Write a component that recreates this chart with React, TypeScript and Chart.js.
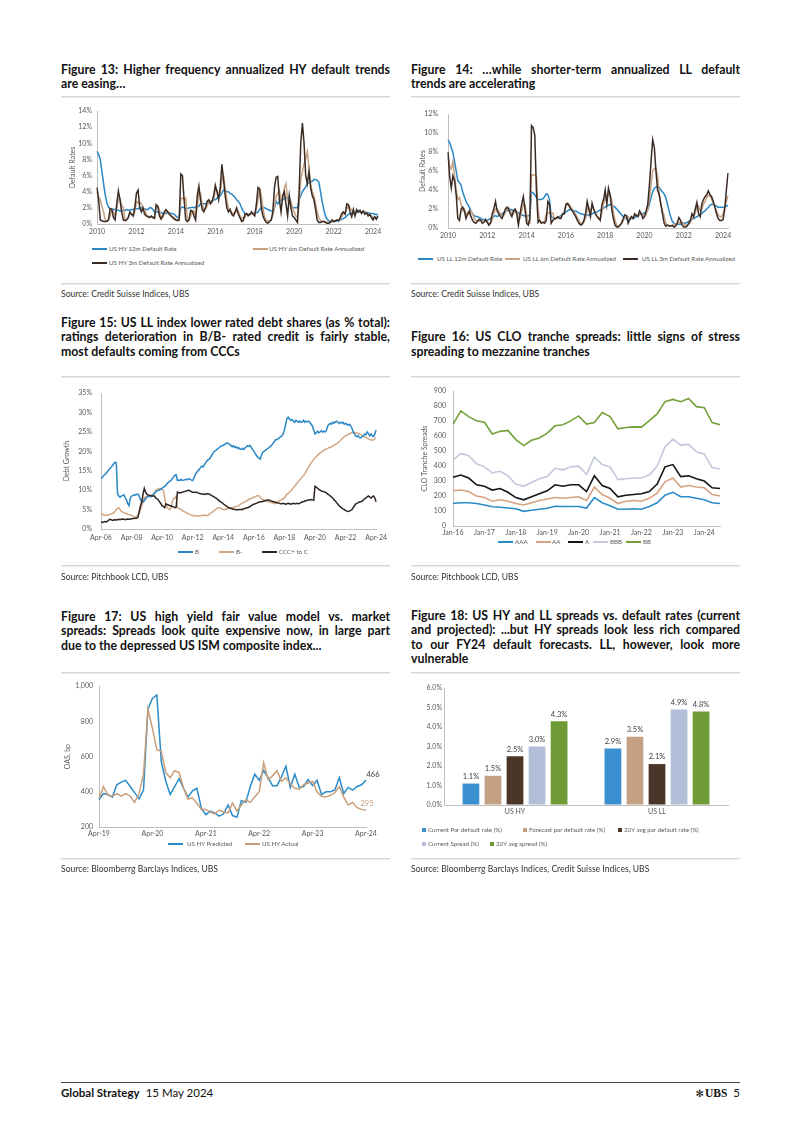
import React, { useEffect, useRef } from 'react';
import { Chart, registerables } from 'chart.js';

Chart.register(...registerables);

const FONT = 'Lato, "Open Sans", "Noto Sans", sans-serif';
const AXIS_TEXT = '#595959';
const AXIS_LINE = '#bfbfbf';
Chart.defaults.font.family = FONT;

// ---------------- Figure 13 (monthly, Jan-2010 .. Apr-2024) ----------------
const yearTicks = ['2010', '2012', '2014', '2016', '2018', '2020', '2022', '2024'];
const hySeriesNames = ['US HY 12m Default Rate', 'US HY 6m Default Rate Annualized', 'US HY 3m Default Rate Annualized'];
const hy12m = [
  9.0, 8.6, 8.0, 6.5, 5.0, 3.6, 2.6, 2.1, 1.9, 1.9, 1.8, 1.8,
  1.7, 1.7, 1.6, 1.6, 1.7, 1.7, 1.8, 1.7, 1.7, 1.8, 1.8, 1.9,
  1.9, 1.9, 2.0, 2.0, 1.9, 1.9, 1.8, 1.8, 2.0, 2.0, 1.8, 1.5,
  1.5, 1.5, 1.4, 1.4, 1.3, 1.3, 1.3, 1.4, 1.4, 1.3, 1.3, 1.2,
  1.0, 0.8, 0.8, 2.0, 2.1, 2.0, 1.9, 1.9, 2.0, 2.0, 2.1, 2.0,
  2.1, 2.1, 2.2, 2.5, 2.5, 2.5, 2.5, 2.6, 2.7, 2.8, 2.9, 3.0,
  3.0, 3.2, 3.3, 3.5, 3.8, 4.2, 4.2, 4.0, 4.0, 3.8, 3.7, 3.5,
  3.3, 3.0, 2.8, 2.5, 2.0, 1.6, 1.3, 1.2, 1.2, 1.2, 1.3, 1.3,
  1.4, 1.4, 1.5, 1.8, 2.0, 2.0, 2.0, 1.9, 1.8, 1.7, 1.6, 1.6,
  2.0, 2.8, 2.5, 2.8, 3.0, 3.0, 3.1, 3.2, 3.3, 3.3, 2.2, 2.0,
  2.0, 2.0, 2.0, 3.0, 3.5, 4.0, 4.3, 4.6, 5.0, 5.1, 5.2, 5.3,
  5.5, 5.5, 5.4, 5.2, 4.0, 2.8, 1.8, 1.0, 0.6, 0.4, 0.3, 0.3,
  0.3, 0.3, 0.4, 0.4, 0.5, 0.6, 0.7, 0.8, 1.0, 1.2, 1.3, 1.3,
  1.3, 1.3, 1.4, 1.5, 1.5, 1.5, 1.5, 1.5, 1.4, 1.4, 1.3, 1.3,
  1.3, 1.2, 1.2, 1.1,
];
const hy6m = [
  4.0, 3.3, 3.0, 2.2, 1.5, 0.5, 0.4, 0.5, 1.0, 1.8, 1.5, 1.0,
  2.0, 3.0, 3.2, 2.3, 2.0, 0.6, 0.5, 0.7, 1.2, 1.3, 1.0, 1.5,
  2.8, 2.6, 2.7, 2.5, 2.0, 1.8, 1.2, 1.0, 0.8, 0.9, 0.9, 0.8,
  2.0, 2.2, 1.8, 0.8, 0.8, 1.3, 1.6, 1.6, 1.3, 1.1, 0.9, 0.8,
  0.6, 0.5, 0.5, 3.2, 3.2, 3.0, 3.2, 0.6, 0.5, 1.0, 1.6, 1.6,
  1.0, 2.0, 4.0, 3.8, 2.5, 1.8, 1.8, 2.2, 2.8, 2.8, 2.7, 3.0,
  4.3, 4.2, 3.5, 3.8, 5.5, 6.0, 4.5, 3.0, 2.0, 1.6, 1.5, 1.2,
  1.3, 1.6, 1.6, 1.0, 0.6, 0.8, 0.8, 1.2, 1.2, 1.1, 1.3, 1.4,
  1.2, 1.8, 3.0, 4.3, 3.5, 2.0, 0.8, 0.4, 0.4, 0.3, 0.5, 1.0,
  2.0, 3.5, 3.8, 4.2, 3.0, 3.0, 4.5, 5.0, 3.0, 2.5, 2.8, 2.0,
  1.5, 1.0, 0.8, 2.5, 5.5, 6.5, 7.5, 8.0, 9.0, 7.0, 5.0, 4.0,
  3.5, 2.5, 1.5, 0.8, 0.4, 0.3, 0.3, 0.3, 0.2, 0.2, 0.2, 0.3,
  0.4, 0.4, 0.5, 0.5, 0.6, 0.9, 1.3, 1.4, 1.8, 2.3, 2.0, 1.7,
  1.4, 1.4, 1.5, 1.6, 1.6, 1.5, 1.5, 1.4, 1.3, 1.3, 1.1, 1.0,
  0.8, 0.8, 0.8, 0.9,
];
const hy3m = [
  4.5, 3.0, 0.5, 0.4, 0.3, 0.3, 0.3, 0.5, 1.9, 1.8, 0.8, 0.5,
  2.5, 4.1, 3.0, 1.5, 0.5, 0.4, 0.5, 0.8, 1.5, 1.2, 1.0, 2.0,
  3.8, 4.2, 2.0, 1.5, 2.0, 1.2, 1.0, 0.9, 0.8, 1.0, 0.8, 0.7,
  2.4, 2.2, 1.0, 0.6, 1.0, 1.5, 1.8, 1.5, 1.2, 1.0, 0.8, 0.6,
  0.5, 0.4, 0.5, 6.2, 6.0, 3.0, 0.5, 0.3, 0.5, 1.7, 1.6, 1.0,
  0.5, 3.5, 4.7, 3.0, 1.8, 1.5, 2.0, 2.8, 3.0, 2.5, 2.8, 3.5,
  4.8, 4.0, 3.0, 4.5, 7.4, 5.5, 3.5, 2.0, 1.5, 1.8, 1.2, 1.0,
  1.5, 2.0, 1.2, 0.8, 0.3, 0.4, 1.2, 1.3, 1.0, 1.2, 1.5, 1.2,
  1.0, 2.5, 4.5, 4.3, 2.0, 1.0, 0.5, 0.2, 0.1, 0.3, 0.5, 1.5,
  4.5, 5.8, 5.9, 3.0, 1.5, 3.5, 4.0, 2.5, 1.0, 3.5, 2.0, 1.0,
  0.8, 0.5, 0.2, 4.0, 10.0, 12.5, 10.0, 6.0, 5.0, 6.5, 4.5, 3.5,
  3.0, 1.8, 0.5, 0.2, 0.2, 0.3, 0.3, 0.2, 0.1, 0.1, 0.2, 0.5,
  0.3, 0.4, 0.5, 0.4, 0.8, 1.3, 1.5, 1.2, 2.5, 2.4, 1.5, 0.9,
  1.8, 1.0, 1.8, 1.5, 1.7, 1.3, 1.6, 1.2, 1.4, 1.0, 1.2, 0.8,
  0.5, 0.9, 0.6, 1.0,
];

// ---------------- Figure 14 (monthly, Jan-2010 .. Apr-2024) ----------------
const llSeriesNames = ['US LL 12m Default Rate', 'US LL 6m Default Rate Annualized', 'US LL 3m Default Rate Annualized'];
const ll12m = [
  9.3, 9.0, 8.5, 8.0, 7.0, 6.0, 5.0, 4.8, 4.5, 3.8, 3.3, 2.8,
  2.5, 2.2, 1.8, 1.5, 1.3, 1.2, 1.2, 1.1, 1.0, 0.9, 0.9, 0.8,
  0.8, 0.9, 1.0, 1.1, 1.2, 1.3, 1.2, 1.3, 1.4, 1.5, 1.6, 1.7,
  1.8, 1.9, 2.0, 1.9, 1.8, 1.7, 1.7, 1.6, 1.5, 1.4, 1.3, 1.3,
  1.2, 1.3, 1.3, 3.8, 3.7, 3.5, 3.2, 3.0, 3.0, 3.0, 3.1, 3.3,
  3.6, 3.5, 3.0, 1.2, 1.1, 1.0, 1.0, 1.1, 1.2, 1.3, 1.4, 1.5,
  1.7, 1.8, 1.9, 2.0, 1.9, 1.8, 1.8, 1.7, 1.6, 1.5, 1.5, 1.4,
  1.4, 1.4, 1.3, 1.4, 1.5, 1.6, 1.6, 1.7, 1.8, 1.9, 2.0, 2.1,
  2.2, 2.3, 2.4, 2.5, 2.4, 2.3, 2.2, 2.0, 1.8, 1.6, 1.4, 1.2,
  1.1, 1.0, 0.9, 0.9, 1.0, 1.0, 1.1, 1.2, 1.3, 1.4, 1.5, 1.5,
  1.6, 1.7, 1.9, 2.5, 3.2, 3.8, 4.2, 4.3, 4.4, 4.3, 4.0, 3.8,
  3.6, 3.2, 2.5, 1.8, 1.2, 0.7, 0.5, 0.4, 0.4, 0.4, 0.4, 0.5,
  0.5, 0.5, 0.6, 0.7, 0.8, 0.9, 1.0, 1.1, 1.2, 1.3, 1.4, 1.5,
  1.7, 1.8, 2.0, 2.2, 2.4, 2.5, 2.5, 2.4, 2.3, 2.2, 2.2, 2.2,
  2.2, 2.2, 2.3, 2.4,
];
const ll6m = [
  7.5, 6.5, 6.2, 7.0, 5.5, 4.0, 3.0, 3.2, 2.5, 1.8, 2.0, 1.5,
  1.5, 1.4, 1.8, 1.5, 1.0, 0.8, 0.7, 0.7, 0.8, 0.8, 0.7, 0.7,
  0.6, 0.5, 0.5, 0.9, 1.5, 2.0, 2.0, 1.8, 1.5, 1.3, 1.3, 1.6,
  2.0, 2.2, 1.8, 1.5, 1.5, 1.8, 1.8, 1.0, 1.0, 1.8, 2.5, 2.5,
  1.5, 0.5, 0.5, 5.6, 5.6, 5.6, 5.4, 2.0, 0.7, 0.6, 0.6, 0.7,
  1.5, 1.6, 1.6, 1.6, 1.6, 0.9, 1.0, 1.1, 1.1, 1.2, 1.4, 1.8,
  2.3, 2.5, 2.5, 2.2, 1.9, 1.7, 1.4, 1.1, 0.8, 0.5, 0.5, 0.6,
  1.0, 2.0, 2.2, 1.8, 2.2, 2.0, 1.6, 1.3, 1.1, 1.0, 1.6, 2.5,
  3.2, 3.2, 3.5, 3.5, 3.0, 1.6, 0.8, 0.3, 0.2, 0.3, 0.5, 0.7,
  1.1, 1.2, 1.2, 1.0, 1.0, 1.1, 1.3, 1.4, 1.4, 1.4, 1.5, 1.4,
  1.2, 1.4, 2.0, 3.0, 4.5, 6.0, 6.3, 6.3, 5.5, 3.5, 2.5, 1.8,
  1.3, 0.5, 0.3, 0.3, 0.2, 0.2, 0.3, 0.4, 0.5, 0.6, 0.5, 0.6,
  0.4, 0.3, 0.3, 0.4, 0.6, 1.0, 1.2, 1.6, 2.2, 2.3, 1.8, 2.0,
  2.5, 2.8, 3.2, 3.4, 3.4, 3.0, 2.6, 2.2, 1.8, 1.4, 1.2, 1.2,
  1.5, 2.2, 2.8, 3.4,
];
const ll3m = [
  8.0, 5.5, 4.2, 5.5, 5.0, 3.5, 1.0, 0.8, 2.0, 2.2, 1.8, 1.0,
  1.5, 1.8, 1.2, 0.8, 0.6, 0.5, 0.7, 0.9, 0.8, 0.5, 0.6, 0.9,
  0.6, 0.3, 0.5, 1.5, 2.0, 2.8, 1.8, 1.5, 1.2, 1.0, 1.5, 2.0,
  2.2, 2.0, 1.5, 1.2, 1.8, 2.0, 1.5, 0.3, 1.5, 2.5, 3.3, 2.0,
  0.5, 0.3, 1.0, 10.8, 10.6, 9.8, 4.0, 0.6, 0.8, 0.5, 0.6, 0.5,
  0.8, 2.8, 2.5, 0.5, 0.8, 1.0, 1.0, 1.2, 1.0, 1.0, 1.5, 1.5,
  2.5, 2.6, 2.3, 2.0, 1.8, 1.5, 1.2, 0.8, 0.5, 0.3, 0.4, 0.8,
  1.5, 2.8, 2.0, 1.2, 2.6, 2.0, 1.5, 1.2, 1.0, 0.8, 2.5, 3.0,
  4.0, 2.5, 4.2, 3.5, 2.0, 1.0, 0.3, 0.1, 0.1, 0.3, 0.5, 1.0,
  1.4, 1.3, 0.5, 0.9, 1.2, 1.0, 1.5, 1.3, 1.2, 1.8, 1.5, 1.0,
  1.2, 1.8, 2.5, 4.5, 7.0, 9.3, 8.5, 6.0, 4.0, 3.5, 2.5, 1.5,
  0.5, 0.2, 0.3, 0.2, 0.2, 0.3, 0.1, 0.2, 0.5, 1.1, 0.8, 0.3,
  0.1, 0.1, 0.2, 0.5, 0.8, 1.5, 1.2, 2.0, 2.7, 1.5, 1.2, 2.5,
  3.0, 3.3, 3.5, 3.9, 3.5, 3.3, 2.8, 2.2, 1.5, 1.0, 0.8, 0.8,
  0.9, 2.0, 4.0, 5.8,
];

// ---------------- Figure 15 (monthly, Apr-2006 .. Apr-2024) ----------------
const ratingTicks = ['Apr-06', 'Apr-08', 'Apr-10', 'Apr-12', 'Apr-14', 'Apr-16', 'Apr-18', 'Apr-20', 'Apr-22', 'Apr-24'];
const ratingNames = ['B', 'B-', 'CCC+ to C'];
const shareB = [
  13.0, 13.2, 13.8, 14.0, 14.3, 14.8, 15.2, 15.5, 16.0, 16.3, 16.8, 17.2,
  17.0, 9.0, 8.5, 8.2, 8.5, 8.6, 8.8, 8.0, 7.5, 6.5, 6.0, 8.0,
  8.5, 8.6, 8.8, 8.7, 8.9, 9.0, 8.5, 7.5, 7.2, 7.0, 7.3, 7.8,
  8.2, 8.5, 8.5, 8.3, 8.6, 8.8, 9.2, 9.5, 9.8, 10.0, 10.0, 10.3,
  10.5, 10.8, 11.0, 11.3, 11.8, 12.0, 12.3, 12.5, 13.0, 13.5, 13.8, 14.0,
  12.5, 12.6, 12.5, 12.8, 12.5, 12.6, 12.7, 12.8, 12.7, 13.0, 12.8, 12.6,
  12.5, 13.2, 14.0, 14.5, 15.0, 15.3, 15.8, 16.2, 16.0, 16.5, 17.0, 17.5,
  17.8, 18.0, 18.5, 19.0, 19.5, 20.0, 20.2, 20.5, 20.8, 21.0, 21.3, 21.5,
  21.5, 21.8, 22.0, 22.2, 22.0, 21.8, 21.5, 21.2, 21.5, 21.0, 21.2, 20.8,
  21.0, 20.6, 20.5, 20.8, 20.5, 20.9, 21.2, 21.5, 21.3, 21.5, 21.0, 20.5,
  20.0, 19.5, 19.0, 18.5, 18.3, 18.0, 19.0, 19.8, 20.0, 20.3, 20.5, 20.8,
  21.0, 21.3, 21.6, 22.0, 22.5, 23.0, 23.0, 23.3, 23.5, 23.8, 24.0, 24.5,
  25.5, 27.0, 28.5, 28.8, 28.3, 28.0, 28.2, 27.8, 27.5, 28.0, 27.8, 27.5,
  27.8, 27.5, 27.6, 28.0, 27.5, 27.8, 27.6, 27.8, 27.5, 27.0, 26.5, 25.5,
  24.5, 24.8, 25.2, 24.8, 25.0, 25.3, 25.0, 25.2, 25.0, 25.5, 26.5, 27.0,
  27.2, 27.0, 27.5, 27.3, 27.6, 27.8, 27.5, 27.2, 27.5, 27.3, 27.5, 27.0,
  27.2, 27.0, 26.8, 27.0, 26.5, 26.0, 25.0, 24.5, 24.0, 23.8, 24.0, 23.5,
  23.5, 23.8, 24.0, 24.5, 24.3, 25.0, 24.6, 24.0, 24.5, 24.0, 23.8, 24.5,
  25.5,
];
const shareBminus = [
  4.0, 3.8, 3.6, 3.5, 3.6, 3.5, 3.6, 3.8, 3.9, 4.0, 4.2, 4.5,
  5.0, 5.3, 5.5, 5.0, 4.5, 4.4, 4.2, 4.0, 4.0, 3.8, 3.7, 3.6,
  3.5, 3.3, 3.1, 3.0, 3.2, 3.5, 4.0, 5.0, 6.0, 7.0, 8.0, 8.3,
  8.5, 8.3, 8.5, 8.6, 8.8, 9.0, 9.5, 10.0, 10.2, 10.3, 10.5, 10.4,
  10.2, 10.0, 8.0, 6.0, 5.5, 5.2, 5.0, 5.5, 7.0, 7.8, 8.0, 8.5,
  5.5, 5.3, 5.2, 5.0, 4.8, 4.5, 4.4, 4.2, 4.0, 3.9, 3.7, 3.6,
  3.5, 3.4, 3.5, 3.4, 3.3, 3.4, 3.5, 3.4, 3.5, 3.6, 3.5, 3.5,
  3.5, 3.8, 4.0, 4.3, 4.5, 4.8, 5.0, 5.3, 5.5, 5.5, 5.3, 5.2,
  5.0, 5.1, 5.0, 5.2, 5.3, 5.4, 5.5, 5.5, 5.6, 5.7, 5.8, 5.9,
  6.0, 6.2, 6.5, 6.7, 6.8, 7.0, 7.2, 7.4, 7.6, 7.8, 7.9, 8.0,
  8.2, 8.3, 8.5, 8.6, 8.5, 8.2, 7.8, 7.6, 7.5, 7.3, 7.2, 7.0,
  7.0, 6.9, 6.8, 6.7, 6.6, 6.5, 6.8, 7.0, 7.2, 7.4, 7.6, 7.8,
  8.0, 8.5, 9.0, 9.2, 9.5, 9.8, 10.2, 10.6, 11.0, 11.4, 11.8, 12.2,
  12.6, 13.0, 13.5, 13.8, 14.2, 14.8, 15.4, 16.0, 16.5, 17.0, 17.5, 18.0,
  18.3, 18.6, 19.0, 19.3, 19.6, 19.8, 20.0, 20.3, 20.5, 20.6, 20.8, 21.0,
  21.0, 21.2, 21.4, 21.6, 21.8, 22.0, 22.2, 22.5, 22.8, 23.2, 23.5, 23.8,
  24.0, 24.2, 24.4, 24.5, 24.7, 24.8, 25.0, 24.9, 24.8, 24.7, 24.6, 24.5,
  24.3, 24.2, 24.0, 23.8, 23.6, 23.4, 23.2, 23.0, 23.0, 22.9, 23.0, 23.2,
  23.5,
];
const shareCCC = [
  1.8, 1.7, 1.8, 1.9, 1.8, 2.0, 2.3, 2.5, 2.4, 2.2, 2.3, 2.4,
  2.3, 2.4, 2.5, 2.4, 2.5, 2.6, 2.5, 2.4, 2.5, 2.6, 2.5, 2.6,
  2.6, 2.7, 2.7, 2.8, 2.8, 3.0, 4.5, 6.0, 7.0, 9.0, 10.5, 9.5,
  9.0, 8.8, 8.7, 8.6, 8.5, 8.5, 8.5, 8.0, 7.8, 7.5, 7.0, 6.5,
  6.0, 5.8, 5.5, 6.5, 6.3, 6.2, 6.0, 6.0, 5.8, 5.7, 5.5, 5.6,
  9.5, 9.4, 9.3, 9.4, 9.5, 9.6, 9.7, 9.8, 9.9, 10.0, 9.8, 9.6,
  9.5, 9.5, 9.4, 9.5, 9.3, 9.2, 9.1, 9.0, 9.0, 8.9, 9.0, 9.1,
  9.0, 9.0, 8.8, 8.6, 8.4, 8.2, 8.0, 7.8, 7.5, 7.2, 7.0, 6.8,
  6.5, 6.2, 6.0, 5.8, 5.5, 5.4, 5.3, 5.2, 5.1, 5.0, 5.0, 4.9,
  5.0, 5.0, 5.1, 5.0, 5.2, 5.3, 5.4, 5.5, 5.6, 5.8, 6.0, 6.2,
  6.4, 6.5, 6.6, 6.8, 6.9, 7.0, 7.0, 7.1, 7.2, 7.3, 7.4, 7.5,
  7.5, 7.3, 7.2, 7.0, 7.0, 6.9, 6.8, 6.7, 6.6, 6.5, 6.5, 6.6,
  6.5, 6.4, 6.5, 6.6, 6.5, 6.4, 6.5, 6.6, 6.5, 6.5, 6.6, 6.5,
  6.6, 6.8, 7.0, 7.0, 7.2, 7.3, 7.4, 7.5, 7.5, 7.6, 7.5, 7.4,
  11.0, 10.8, 10.5, 10.2, 10.0, 9.8, 9.7, 9.6, 9.5, 9.3, 9.0, 8.8,
  8.5, 8.2, 8.0, 7.5, 7.2, 6.8, 6.4, 6.0, 5.7, 5.4, 5.2, 5.0,
  4.8, 4.6, 4.5, 4.6, 4.8, 5.0, 5.5, 6.0, 6.5, 6.6, 6.8, 7.0,
  7.0, 7.2, 7.5, 7.8, 8.0, 8.3, 8.5, 8.2, 8.0, 8.3, 8.5, 8.0,
  7.0,
];

// ---------------- Figure 16 (quarterly, Jan-2016 .. mid-2024) ----------------
const cloTicks = ['Jan-16', 'Jan-17', 'Jan-18', 'Jan-19', 'Jan-20', 'Jan-21', 'Jan-22', 'Jan-23', 'Jan-24'];
const cloNames = ['AAA', 'AA', 'A', 'BBB', 'BB'];
const cloAAA = [150, 155, 155, 150, 140, 128, 125, 120, 115, 98, 105, 112, 118, 132, 130, 130, 130, 120, 190, 155, 135, 112, 112, 115, 112, 130, 155, 205, 225, 195, 195, 185, 175, 155, 150];
const cloAA = [235, 240, 230, 200, 190, 165, 175, 165, 150, 140, 155, 170, 180, 190, 185, 190, 195, 170, 260, 210, 185, 150, 165, 170, 165, 185, 220, 295, 320, 260, 270, 260, 255, 210, 200];
const cloA = [325, 340, 320, 275, 265, 240, 250, 225, 190, 175, 195, 215, 235, 275, 265, 275, 275, 230, 335, 270, 250, 195, 205, 210, 215, 230, 280, 395, 410, 330, 335, 315, 300, 255, 250];
const cloBBB = [440, 485, 470, 415, 395, 355, 365, 335, 280, 265, 290, 315, 330, 385, 375, 395, 400, 345, 460, 410, 395, 310, 315, 320, 320, 340, 400, 530, 580, 540, 545, 495, 480, 390, 380];
const cloBB = [680, 768, 730, 702, 693, 614, 632, 638, 577, 537, 572, 588, 620, 669, 676, 702, 735, 680, 691, 757, 731, 649, 658, 662, 660, 704, 748, 830, 845, 830, 852, 797, 790, 691, 676];

// ---------------- Figure 17 (monthly, Apr-2019 .. Apr-2024) ----------------
const oasTicks = ['Apr-19', 'Apr-20', 'Apr-21', 'Apr-22', 'Apr-23', 'Apr-24'];
const oasNames = ['US HY Predicted', 'US HY Actual'];
const hyPredicted = [
  355, 390, 385, 370, 440, 455, 465, 430, 395, 360, 410, 870,
  930, 950, 570, 460, 385, 430, 475, 420, 370, 405, 420, 305,
  270, 290, 280, 262, 275, 325, 265, 255, 350, 340, 430, 500,
  465, 520, 480, 435, 435, 485, 545, 425, 500, 425, 430, 470,
  435, 465, 385, 400, 400, 410, 480, 390, 425, 410, 430, 440,
  466,
];
const hyActual = [
  360, 430, 380, 375, 390, 375, 390, 375, 340, 390, 500, 870,
  760, 640, 630, 510, 480, 520, 510, 420, 360, 365, 335, 300,
  300, 285, 275, 295, 285, 280, 335, 290, 325, 355, 340, 370,
  400, 565, 470, 490, 520, 460, 480, 445, 420, 415, 440, 450,
  460, 400, 375, 370, 380, 395, 430, 370, 325, 340, 310, 300,
  295,
];

// ---------------- Figure 18 ----------------
const barCategories = ['US HY', 'US LL'];
const barNames = ['Current Par default rate (%)', 'Forecast par default rate (%)', '20Y avg par default rate (%)', 'Current Spread (%)', '20Y avg spread (%)'];
const currentParDefault = [1.1, 2.9];
const forecastParDefault = [1.5, 3.5];
const avgParDefault = [2.5, 2.1];
const currentSpread = [3.0, 4.9];
const avgSpread = [4.3, 4.8];

// ---------------- colours ----------------
const BLUE = '#2a87c6';
const TAN = '#c9a181';
const DARK = '#3a2b24';

// ---------------- helpers ----------------
const idxLabels = (n: number) => Array.from({ length: n }, (_, i) => String(i));

function catAxis(every: number, ticks: string[], height: number, pad: number, offset = false) {
  return {
    type: 'category',
    offset,
    ticks: {
      autoSkip: false, maxRotation: 0, minRotation: 0, padding: pad, color: AXIS_TEXT,
      font: { family: FONT, size: 7 },
      callback: (_v: any, i: number) => (i % every === 0 && ticks[i / every] !== undefined ? ticks[i / every] : ''),
    },
    grid: { drawOnChartArea: false, drawTicks: false },
    border: { display: true, color: AXIS_LINE, width: 1 },
    afterFit: (s: any) => { s.height = height; },
  };
}

function linAxis(min: number, max: number, step: number, width: number, fmt: (v: number) => string, tickPad: number, title?: string, titlePad = 0) {
  return {
    type: 'linear', min, max,
    ticks: { stepSize: step, padding: tickPad, color: AXIS_TEXT, font: { family: FONT, size: 7 }, callback: (v: any) => fmt(Number(v)) },
    grid: { drawOnChartArea: false, drawTicks: false },
    border: { display: true, color: AXIS_LINE, width: 1 },
    title: title
      ? { display: true, text: title, color: AXIS_TEXT, font: { family: FONT, size: 7 }, padding: { top: titlePad, bottom: 0 } }
      : { display: false },
    afterFit: (s: any) => { s.width = width; },
  };
}

function baseOptions(padTop: number, padRight: number, scales: any) {
  return {
    responsive: false,
    maintainAspectRatio: false,
    animation: false,
    devicePixelRatio: 1,
    events: [],
    layout: { padding: { top: padTop, right: padRight, bottom: 0, left: 0 } },
    plugins: { legend: { display: false }, tooltip: { enabled: false } },
    scales,
  };
}

const lineDs = (label: string, data: number[], color: string, order: number, width = 1.5) => ({
  label, data, borderColor: color, backgroundColor: color, borderWidth: width,
  pointRadius: 0, tension: 0, fill: false, order,
});

const pct0 = (v: number) => `${v}%`;
const pct1 = (v: number) => `${v.toFixed(1)}%`;

// ---------------- components ----------------
function ChartCanvas({ x, y, w, h, build }: any) {
  const ref = useRef<HTMLCanvasElement | null>(null);
  useEffect(() => {
    if (!ref.current) return;
    const chart = new Chart(ref.current, build());
    return () => chart.destroy();
  }, []);
  return (
    <canvas ref={ref} width={w} height={h}
      style={{ position: 'absolute', left: x, top: y, width: w, height: h, display: 'block' }} />
  );
}

function Title({ x, y, w, lines }: any) {
  return (
    <div style={{ position: 'absolute', left: x, top: y, width: w, fontFamily: FONT, fontWeight: 700, fontSize: 12.3, lineHeight: '14.5px', color: '#111' }}>
      {lines.map((l: string, i: number) => {
        const last = i === lines.length - 1;
        return (
          <div key={i} style={{ textAlign: last ? 'left' : 'justify', textAlignLast: last ? 'left' : 'justify' } as any}>{l}</div>
        );
      })}
    </div>
  );
}

function Rule({ x, y, w, color = '#d6d6d6' }: any) {
  return <div style={{ position: 'absolute', left: x, top: y, width: w, height: 1, background: color, boxShadow: '0 1px 1px #ececec' }} />;
}

function Source({ x, y, text }: any) {
  return (
    <div style={{ position: 'absolute', left: x, top: y - 6, fontFamily: FONT, fontSize: 8.6, lineHeight: '12px', color: '#333', whiteSpace: 'nowrap' }}>{text}</div>
  );
}

function Legend({ items }: any) {
  return (
    <>
      {items.map((it: any, i: number) => (
        <React.Fragment key={i}>
          {it.kind === 'square'
            ? <div style={{ position: 'absolute', left: it.sx, top: it.y - 2, width: 4, height: 4, background: it.color }} />
            : <div style={{ position: 'absolute', left: it.sx, top: it.y - 1, width: 15, height: 2, background: it.color }} />}
          <div style={{ position: 'absolute', left: it.tx, top: it.y - 5, fontFamily: FONT, fontSize: 6.2, lineHeight: '10px', color: AXIS_TEXT, whiteSpace: 'nowrap' }}>{it.label}</div>
        </React.Fragment>
      ))}
    </>
  );
}

// ---------------- chart builders ----------------
const buildFig13 = () => ({
  type: 'line',
  data: {
    labels: idxLabels(hy12m.length),
    datasets: [
      lineDs(hySeriesNames[0], hy12m, BLUE, 3),
      lineDs(hySeriesNames[1], hy6m, TAN, 2),
      lineDs(hySeriesNames[2], hy3m, DARK, 1),
    ],
  },
  options: baseOptions(11, 13, {
    x: catAxis(24, yearTicks, 16, 4),
    y: linAxis(0, 14, 2, 36, pct0, 5, 'Default Rates', 7.8),
  }),
});

const buildFig14 = () => ({
  type: 'line',
  data: {
    labels: idxLabels(ll12m.length),
    datasets: [
      lineDs(llSeriesNames[0], ll12m, BLUE, 3),
      lineDs(llSeriesNames[1], ll6m, TAN, 2),
      lineDs(llSeriesNames[2], ll3m, DARK, 1),
    ],
  },
  options: baseOptions(12, 12, {
    x: catAxis(24, yearTicks, 16, 4),
    y: linAxis(0, 12, 2, 38, pct0, 10, 'Default Rates', 8.8),
  }),
});

const buildFig15 = () => ({
  type: 'line',
  data: {
    labels: idxLabels(shareB.length),
    datasets: [
      lineDs(ratingNames[0], shareB, BLUE, 2),
      lineDs(ratingNames[1], shareBminus, '#d2a785', 3),
      lineDs(ratingNames[2], shareCCC, '#2e2420', 1),
    ],
  },
  options: baseOptions(10, 14, {
    x: catAxis(24, ratingTicks, 17, 5),
    y: linAxis(0, 35, 5, 40, pct0, 9, 'Debt Growth', 1.8),
  }),
});

const buildFig16 = () => ({
  type: 'line',
  data: {
    labels: idxLabels(cloAAA.length),
    datasets: [
      lineDs(cloNames[0], cloAAA, '#2a8bc9', 1, 1.6),
      lineDs(cloNames[1], cloAA, '#d6a27f', 2, 1.6),
      lineDs(cloNames[2], cloA, '#151515', 3, 1.6),
      lineDs(cloNames[3], cloBBB, '#c3c8dd', 4, 1.6),
      lineDs(cloNames[4], cloBB, '#74a03a', 5, 1.6),
    ],
  },
  options: baseOptions(9, 14, {
    x: catAxis(4, cloTicks, 14, 3),
    y: linAxis(0, 900, 100, 43, (v) => String(v), 7, 'CLO Tranche Spreads', 10.8),
  }),
});

const endLabels = {
  id: 'endLabels',
  afterDatasetsDraw(chart: any) {
    const ctx = chart.ctx;
    const styles = [{ dx: 7, dy: -6, color: '#404040' }, { dx: 1, dy: -7, color: '#c9a181' }];
    chart.data.datasets.forEach((ds: any, di: number) => {
      const meta = chart.getDatasetMeta(di);
      const last = meta.data[meta.data.length - 1];
      const v = ds.data[ds.data.length - 1];
      const st = styles[di];
      ctx.save();
      ctx.font = `7.5px ${FONT}`;
      ctx.fillStyle = st.color;
      ctx.textAlign = 'center';
      ctx.textBaseline = 'middle';
      ctx.fillText(String(Math.round(v)), last.x + st.dx, last.y + st.dy);
      ctx.restore();
    });
  },
};

const buildFig17 = () => ({
  type: 'line',
  data: {
    labels: idxLabels(hyPredicted.length),
    datasets: [
      lineDs(oasNames[0], hyPredicted, '#2a8bc9', 2),
      lineDs(oasNames[1], hyActual, '#c99d78', 1),
    ],
  },
  options: baseOptions(9, 20, {
    x: catAxis(12, oasTicks, 14, 3),
    y: linAxis(200, 1000, 200, 38, (v) => v.toLocaleString('en-US'), 6, 'OAS, bp', 2.8),
  }),
  plugins: [endLabels],
});

const barLabels = {
  id: 'barLabels',
  afterDatasetsDraw(chart: any) {
    const ctx = chart.ctx;
    chart.data.datasets.forEach((ds: any, di: number) => {
      const meta = chart.getDatasetMeta(di);
      meta.data.forEach((bar: any, i: number) => {
        ctx.save();
        ctx.font = `7.5px ${FONT}`;
        ctx.fillStyle = '#404040';
        ctx.textAlign = 'center';
        ctx.textBaseline = 'middle';
        ctx.fillText(pct1(ds.data[i]), bar.x, bar.y - 7);
        ctx.restore();
      });
    });
  },
};

const BAR_COLORS = ['#3a8fd1', '#c4a182', '#4a3529', '#b3bfd8', '#6e9b35'];
const buildFig18 = () => ({
  type: 'bar',
  data: {
    labels: barCategories,
    datasets: [currentParDefault, forecastParDefault, avgParDefault, currentSpread, avgSpread].map((d, i) => ({
      label: barNames[i], data: d, backgroundColor: BAR_COLORS[i], borderWidth: 0,
      categoryPercentage: 0.776, barPercentage: 0.76,
    })),
  },
  options: baseOptions(10, 6, {
    x: {
      type: 'category', offset: true,
      ticks: { padding: 3, color: AXIS_TEXT, font: { family: FONT, size: 7 } },
      grid: { drawOnChartArea: false, drawTicks: false, offset: true },
      border: { display: true, color: AXIS_LINE, width: 1 },
      afterFit: (s: any) => { s.height = 14; },
    },
    y: linAxis(0, 6, 1, 34, pct1, 2),
  }),
  plugins: [barLabels],
});

// ---------------- page ----------------
export default function App() {
  const L = 61, LW = 329, R = 411, RW = 329;
  return (
    <div style={{ position: 'absolute', left: 0, top: 0, width: 802, height: 1134, background: '#fff', overflow: 'hidden' }}>
      {/* Row 1 */}
      <Title x={L} y={62.75} w={LW} lines={['Figure 13: Higher frequency annualized HY default trends', 'are easing…']} />
      <Title x={R} y={62.75} w={RW} lines={['Figure 14: …while shorter-term annualized LL default', 'trends are accelerating']} />
      <Rule x={L} y={96} w={LW} />
      <Rule x={R} y={96} w={RW} />
      <ChartCanvas x={61} y={100} w={330} h={140} build={buildFig13} />
      <ChartCanvas x={410} y={100} w={330} h={144} build={buildFig14} />
      <Legend items={[
        { sx: 92, tx: 109, y: 249, color: BLUE, label: hySeriesNames[0] },
        { sx: 253, tx: 269, y: 249, color: TAN, label: hySeriesNames[1] },
        { sx: 92, tx: 109, y: 263, color: DARK, label: hySeriesNames[2] },
        { sx: 418, tx: 437, y: 259, color: BLUE, label: llSeriesNames[0] },
        { sx: 505, tx: 523, y: 259, color: TAN, label: llSeriesNames[1] },
        { sx: 623, tx: 642, y: 259, color: DARK, label: llSeriesNames[2] },
      ]} />
      <Rule x={L} y={283} w={LW} />
      <Rule x={R} y={283} w={RW} />
      <Source x={L} y={294} text="Source: Credit Suisse Indices, UBS" />
      <Source x={R} y={294} text="Source: Credit Suisse Indices, UBS" />

      {/* Row 2 */}
      <Title x={L} y={315.75} w={LW} lines={['Figure 15: US LL index lower rated debt shares (as % total):', 'ratings deterioration in B/B- rated credit is fairly stable,', 'most defaults coming from CCCs']} />
      <Title x={R} y={330.25} w={RW} lines={['Figure 16: US CLO tranche spreads: little signs of stress', 'spreading to mezzanine tranches']} />
      <Rule x={L} y={376} w={LW} />
      <Rule x={R} y={376} w={RW} />
      <ChartCanvas x={61} y={380} w={331} h={166} build={buildFig15} />
      <ChartCanvas x={410} y={380} w={324} h={160} build={buildFig16} />
      <Legend items={[
        { sx: 178, tx: 195, y: 552, color: BLUE, label: ratingNames[0] },
        { sx: 219, tx: 236, y: 552, color: '#d2a785', label: ratingNames[1] },
        { sx: 262, tx: 279, y: 552, color: '#2e2420', label: ratingNames[2] },
        { sx: 498, tx: 515, y: 542, color: '#2a8bc9', label: cloNames[0] },
        { sx: 536, tx: 552, y: 542, color: '#d6a27f', label: cloNames[1] },
        { sx: 568, tx: 585, y: 542, color: '#151515', label: cloNames[2] },
        { sx: 593, tx: 610, y: 542, color: '#c3c8dd', label: cloNames[3] },
        { sx: 626, tx: 643, y: 542, color: '#74a03a', label: cloNames[4] },
      ]} />
      <Rule x={L} y={565} w={LW} />
      <Rule x={R} y={565} w={RW} />
      <Source x={L} y={577} text="Source: Pitchbook LCD, UBS" />
      <Source x={R} y={577} text="Source: Pitchbook LCD, UBS" />

      {/* Row 3 */}
      <Title x={L} y={609.75} w={LW} lines={['Figure 17: US high yield fair value model vs. market', 'spreads: Spreads look quite expensive now, in large part', 'due to the depressed US ISM composite index...']} />
      <Title x={R} y={608.75} w={RW} lines={['Figure 18: US HY and LL spreads vs. default rates (current', 'and projected): ...but HY spreads look less rich compared', 'to our FY24 default forecasts. LL, however, look more', 'vulnerable']} />
      <Rule x={L} y={672} w={LW} />
      <Rule x={R} y={672} w={RW} />
      <ChartCanvas x={61} y={676} w={325} h={165} build={buildFig17} />
      <ChartCanvas x={410} y={678} w={324} h={141} build={buildFig18} />
      <Legend items={[
        { sx: 168, tx: 187, y: 844, color: '#2a8bc9', label: oasNames[0] },
        { sx: 245, tx: 262, y: 844, color: '#c99d78', label: oasNames[1] },
        { kind: 'square', sx: 422, tx: 428, y: 830, color: BAR_COLORS[0], label: barNames[0] },
        { kind: 'square', sx: 523, tx: 529, y: 830, color: BAR_COLORS[1], label: barNames[1] },
        { kind: 'square', sx: 618, tx: 624, y: 830, color: BAR_COLORS[2], label: barNames[2] },
        { kind: 'square', sx: 422, tx: 428, y: 844, color: BAR_COLORS[3], label: barNames[3] },
        { kind: 'square', sx: 490, tx: 496, y: 844, color: BAR_COLORS[4], label: barNames[4] },
      ]} />
      <Rule x={L} y={858} w={LW} />
      <Rule x={R} y={858} w={RW} />
      <Source x={L} y={869} text="Source: Bloomberrg Barclays Indices, UBS" />
      <Source x={R} y={869} text="Source: Bloomberrg Barclays Indices, Credit Suisse Indices, UBS" />

      {/* Footer */}
      <div style={{ position: 'absolute', left: 61, top: 1082, width: 679, height: 1, background: '#444' }} />
      <div style={{ position: 'absolute', left: 61, top: 1086, fontFamily: FONT, fontSize: 11.5, lineHeight: '14px', color: '#111', whiteSpace: 'nowrap' }}>
        <span style={{ fontWeight: 700 }}>Global Strategy</span>
        <span style={{ marginLeft: 6 }}>15 May 2024</span>
      </div>
      <div style={{ position: 'absolute', right: 802 - 740, top: 1086, fontSize: 11.5, lineHeight: '14px', color: '#111', whiteSpace: 'nowrap' }}>
        <span style={{ fontFamily: '"DejaVu Sans", sans-serif', fontSize: 10 }}>✻</span>
        <span style={{ fontFamily: '"Liberation Serif", "DejaVu Serif", serif', fontWeight: 700, marginLeft: 1 }}>UBS</span>
        <span style={{ fontFamily: FONT, marginLeft: 6 }}>5</span>
      </div>
    </div>
  );
}
